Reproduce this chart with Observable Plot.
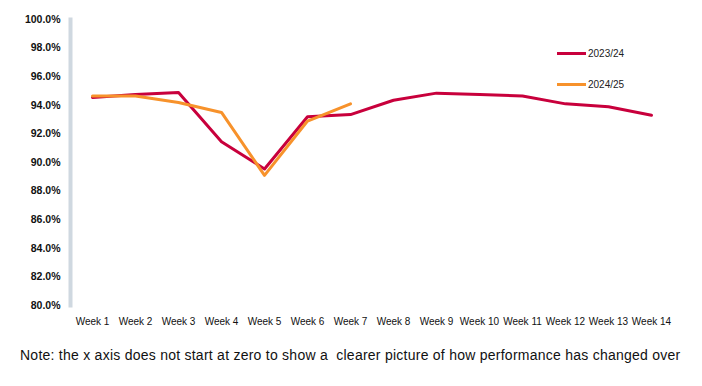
<!DOCTYPE html>
<html>
<head>
<meta charset="utf-8">
<script src="https://cdn.jsdelivr.net/npm/d3@7"></script>
<script src="https://cdn.jsdelivr.net/npm/@observablehq/plot@0.6"></script>
<style>
  html, body { margin: 0; padding: 0; background: #fff; }
  #wrap { position: relative; width: 702px; height: 386px; font-family: "Liberation Sans", Arial, sans-serif; }
  #legend { position: absolute; left: 557px; top: 38px; font-size: 10px; color: #222; }
  .item { display: flex; align-items: center; height: 31px; }
  .sw { width: 29px; height: 3px; margin-right: 2px; }
  #note { position: absolute; left: 20px; top: 347px; font-size: 14px; color: #111; white-space: nowrap; letter-spacing: 0.25px; }
</style>
</head>
<body>
<div id="wrap">
  <div id="chart"></div>
  <div id="legend"></div>
  <div id="note">Note: the x axis does not start at zero to show a&nbsp; clearer picture of how performance has changed over</div>
</div>
<script>
const weeks = ["Week 1","Week 2","Week 3","Week 4","Week 5","Week 6","Week 7","Week 8","Week 9","Week 10","Week 11","Week 12","Week 13","Week 14"];
const series2324 = [94.55, 94.75, 94.9, 91.45, 89.55, 93.2, 93.35, 94.35, 94.85, 94.75, 94.65, 94.1, 93.9, 93.3];
const series2425 = [94.65, 94.65, 94.2, 93.5, 89.1, 92.9, 94.1];
const seriesNames = ["2023/24", "2024/25"];
const seriesColors = ["#c8003c", "#f7922b"];
const yTicks = [80, 82, 84, 86, 88, 90, 92, 94, 96, 98, 100];

const data = [];
series2324.forEach((v, i) => data.push({week: weeks[i], value: v, series: seriesNames[0]}));
series2425.forEach((v, i) => data.push({week: weeks[i], value: v, series: seriesNames[1]}));

const chart = Plot.plot({
  width: 702,
  height: 340,
  marginLeft: 70,
  marginRight: 30,
  marginTop: 19,
  marginBottom: 35,
  style: {fontFamily: "Liberation Sans, Arial, sans-serif", color: "#111", background: "#fff"},
  x: {type: "point", domain: weeks, padding: 0.5, label: null},
  y: {domain: [80, 100], label: null},
  color: {domain: seriesNames, range: seriesColors},
  marks: [
    Plot.frame({anchor: "left", stroke: "#cfd8e0", strokeWidth: 4}),
    Plot.axisY({ticks: yTicks, tickSize: 0, tickPadding: 10, tickFormat: d => d.toFixed(1) + "%", fontWeight: "bold", fontSize: 10.5}),
    Plot.axisX({tickSize: 0, tickPadding: 12, fontSize: 10}),
    Plot.line(data, {x: "week", y: "value", z: "series", stroke: "series", strokeWidth: 3, curve: "linear"})
  ]
});
document.getElementById("chart").appendChild(chart);

const legend = document.getElementById("legend");
seriesNames.forEach((n, i) => {
  const d = document.createElement("div");
  d.className = "item";
  d.innerHTML = `<span class="sw" style="background:${seriesColors[i]}"></span><span>${n}</span>`;
  legend.appendChild(d);
});
</script>
</body>
</html>
